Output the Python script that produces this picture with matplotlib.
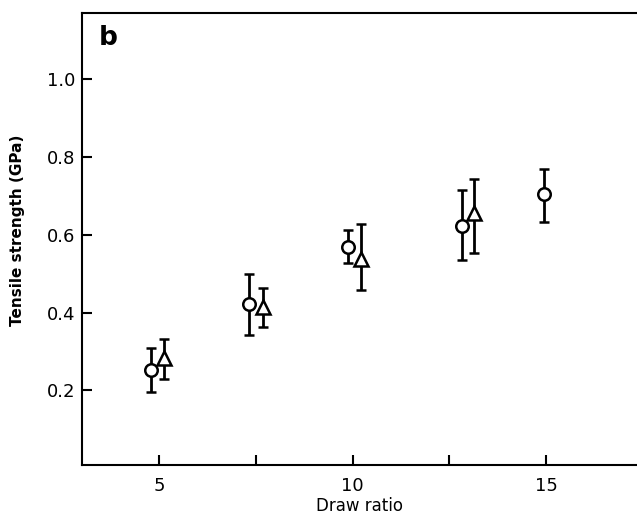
#!/usr/bin/env python3
import matplotlib
matplotlib.use("Agg")
import matplotlib.pyplot as plt
import numpy as np

# circles
circle_x = [4.79, 7.33, 9.88, 12.83, 14.95]
circle_y = [0.251, 0.423, 0.569, 0.623, 0.705]
circle_lo = [0.195, 0.343, 0.528, 0.536, 0.633]
circle_hi = [0.308, 0.500, 0.613, 0.715, 0.769]

# triangles
tri_x = [5.13, 7.69, 10.22, 13.14]
tri_y = [0.282, 0.413, 0.538, 0.656]
tri_lo = [0.228, 0.362, 0.459, 0.554]
tri_hi = [0.333, 0.464, 0.628, 0.744]

x_ticks = [5, 7.5, 10, 12.5, 15]
x_ticklabels = ["5", "", "10", "", "15"]
y_ticks = [0.2, 0.4, 0.6, 0.8, 1.0]
y_ticklabels = ["0.2", "0.4", "0.6", "0.8", "1.0"]

plt.rcParams['font.family'] = ['DejaVu Sans']

fig = plt.figure(figsize=(6.37, 5.15), dpi=100)
ax = fig.add_axes([0.1287, 0.0971, 0.871, 0.8777])


def draw(ax, x, y, lo, hi, marker, size):
    y = np.array(y)
    yerr = [y - np.array(lo), np.array(hi) - y]
    ax.errorbar(x, y, yerr=yerr, fmt=marker, ms=size, mfc='white', mec='black',
                mew=1.8, ecolor='black', elinewidth=2.0, capsize=3.5, capthick=2.0,
                zorder=3)


draw(ax, circle_x, circle_y, circle_lo, circle_hi, 'o', 9)
draw(ax, tri_x, tri_y, tri_lo, tri_hi, '^', 9.5)

ax.set_xlim(3.0, 17.35)
ax.set_ylim(0.008, 1.17)
ax.set_xticks(x_ticks)
ax.set_xticklabels(x_ticklabels)
ax.set_yticks(y_ticks)
ax.set_yticklabels(y_ticklabels)

ax.spines['right'].set_visible(False)
for s in ['left', 'bottom', 'top']:
    ax.spines[s].set_linewidth(1.5)

ax.tick_params(direction='in', length=7, width=1.5, labelsize=13)
ax.tick_params(axis='x', pad=9)
ax.tick_params(axis='y', pad=5)

ax.set_xlabel('Draw ratio', fontsize=12, labelpad=1)
ax.set_ylabel('Tensile strength (GPa)', fontsize=11, fontweight='bold')
ax.yaxis.set_label_coords(-0.103, 0.52)

ax.text(0.03, 0.945, 'b', transform=ax.transAxes, fontsize=19, fontweight='bold',
        ha='left', va='center')

fig.savefig('out.png', dpi=100)
